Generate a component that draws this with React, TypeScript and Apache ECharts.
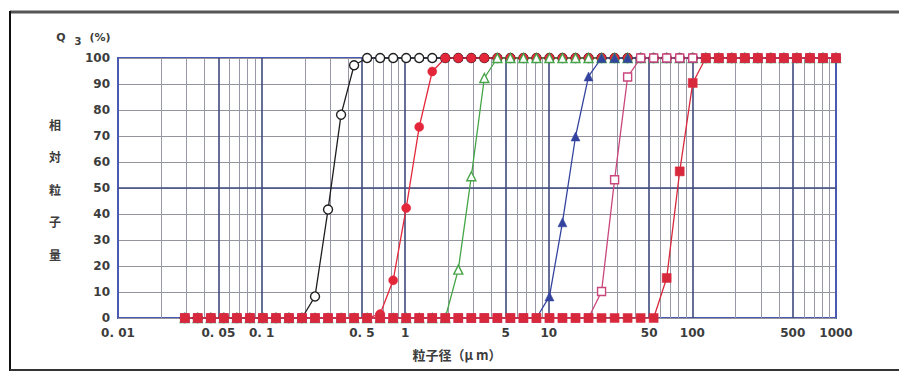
import React, { useEffect, useRef } from 'react';
import * as echarts from 'echarts';

// particle size channels (µm)
const sizes = [
  0.0292, 0.0359, 0.0443, 0.0546, 0.0673, 0.0829, 0.1021, 0.1259, 0.1551, 0.1911,
  0.2355, 0.2902, 0.3576, 0.4406, 0.543, 0.6691, 0.8245, 1.016, 1.252, 1.543,
  1.901, 2.343, 2.887, 3.557, 4.384, 5.402, 6.656, 8.202, 10.11, 12.45,
  15.35, 18.91, 23.3, 28.72, 35.39, 43.61, 53.73, 66.21, 81.59, 100.5,
  123.9, 152.6, 188.1, 231.8, 285.6, 351.9, 433.7, 534.4, 658.5, 811.4,
  1000,
];

// cumulative Q3 (%) per sample
const sampleA = [
  0, 0, 0, 0, 0, 0, 0, 0, 0, 0,
  8.3, 41.7, 78.2, 97.2, 100, 100, 100, 100, 100, 100,
  100, 100, 100, 100, 100, 100, 100, 100, 100, 100,
  100, 100, 100, 100, 100, 100, 100, 100, 100, 100,
  100, 100, 100, 100, 100, 100, 100, 100, 100, 100,
  100,
];
const sampleB = [
  0, 0, 0, 0, 0, 0, 0, 0, 0, 0,
  0, 0, 0, 0, 0, 1.5, 14.5, 42.3, 73.5, 94.8,
  100, 100, 100, 100, 100, 100, 100, 100, 100, 100,
  100, 100, 100, 100, 100, 100, 100, 100, 100, 100,
  100, 100, 100, 100, 100, 100, 100, 100, 100, 100,
  100,
];
const sampleC = [
  0, 0, 0, 0, 0, 0, 0, 0, 0, 0,
  0, 0, 0, 0, 0, 0, 0, 0, 0, 0,
  0, 18.6, 54.5, 92.3, 100, 100, 100, 100, 100, 100,
  100, 100, 100, 100, 100, 100, 100, 100, 100, 100,
  100, 100, 100, 100, 100, 100, 100, 100, 100, 100,
  100,
];
const sampleD = [
  0, 0, 0, 0, 0, 0, 0, 0, 0, 0,
  0, 0, 0, 0, 0, 0, 0, 0, 0, 0,
  0, 0, 0, 0, 0, 0, 0, 0, 8.3, 36.8,
  69.8, 92.9, 100, 100, 100, 100, 100, 100, 100, 100,
  100, 100, 100, 100, 100, 100, 100, 100, 100, 100,
  100,
];
const sampleE = [
  0, 0, 0, 0, 0, 0, 0, 0, 0, 0,
  0, 0, 0, 0, 0, 0, 0, 0, 0, 0,
  0, 0, 0, 0, 0, 0, 0, 0, 0, 0,
  0, 0, 10.2, 53.2, 92.7, 100, 100, 100, 100, 100,
  100, 100, 100, 100, 100, 100, 100, 100, 100, 100,
  100,
];
const sampleF = [
  0, 0, 0, 0, 0, 0, 0, 0, 0, 0,
  0, 0, 0, 0, 0, 0, 0, 0, 0, 0,
  0, 0, 0, 0, 0, 0, 0, 0, 0, 0,
  0, 0, 0, 0, 0, 0, 0, 15.4, 56.4, 90.4,
  100, 100, 100, 100, 100, 100, 100, 100, 100, 100,
  100,
];

const xTickValues = [0.01, 0.05, 0.1, 0.5, 1, 5, 10, 50, 100, 500, 1000];
const xTickLabels = ['0. 01', '0. 05', '0. 1', '0. 5', '1', '5', '10', '50', '100', '500', '1000'];
const minorGridValues = [
  0.02, 0.03, 0.04, 0.06, 0.07, 0.08, 0.09,
  0.2, 0.3, 0.4, 0.6, 0.7, 0.8, 0.9,
  2, 3, 4, 6, 7, 8, 9,
  20, 30, 40, 60, 70, 80, 90,
  200, 300, 400, 600, 700, 800, 900,
];
const majorY = 50;

const BORDER = '#4a5ab2';
const MAJOR = '#3e4a7c';
const MINOR = '#9698a8';
const TXT = '#3c3c3c';

export default function App() {
  const ref = useRef<HTMLDivElement>(null);
  useEffect(() => {
    document.body.style.margin = '0';
    const chart = echarts.init(ref.current!, null, { renderer: 'svg' });
    const toPts = (arr: number[]) => sizes.map((s, i) => [s, arr[i]]);

    const gridLines: any[] = [
      ...minorGridValues.map((v) => ({
        xAxis: v,
        lineStyle: { color: MINOR, width: 1, type: 'solid' },
        label: { show: false },
      })),
      ...xTickValues.map((v, i) => {
        const edge = v === 0.01 || v === 1000;
        return {
          xAxis: v,
          lineStyle: { color: edge ? BORDER : MAJOR, width: edge ? 2 : 1.6, type: 'solid' },
          label: {
            show: true,
            position: 'start',
            distance: 9,
            formatter: xTickLabels[i],
            color: TXT,
            fontSize: 12,
            fontWeight: 'bold',
            fontFamily: 'DejaVu Sans',
          },
        };
      }),
      { yAxis: majorY, lineStyle: { color: MAJOR, width: 1.6, type: 'solid' }, label: { show: false } },
    ];

    const mk = (
      name: string,
      data: number[],
      color: string,
      symbol: string,
      filled: boolean,
      size: number,
      extra: any = {}
    ) => ({
      name,
      type: 'line',
      data: toPts(data),
      symbol,
      symbolSize: size,
      showAllSymbol: true,
      lineStyle: { color, width: 1.3 },
      itemStyle: filled
        ? { color, borderColor: color, borderWidth: 0.5 }
        : { color: '#ffffff', borderColor: color, borderWidth: 1.4 },
      emphasis: { disabled: true },
      z: 3,
      ...extra,
    });

    chart.setOption({
      animation: false,
      backgroundColor: '#ffffff',
      grid: {
        left: 118,
        right: 63,
        top: 58,
        bottom: 54,
        show: true,
        borderColor: BORDER,
        borderWidth: 2,
        backgroundColor: '#ffffff',
      },
      xAxis: {
        type: 'log',
        logBase: 10,
        min: 0.01,
        max: 1000,
        axisLine: { show: false },
        axisTick: { show: false },
        axisLabel: { show: false },
        splitLine: { show: false },
      },
      yAxis: {
        type: 'value',
        min: 0,
        max: 100,
        interval: 10,
        axisLine: { show: false },
        axisTick: { show: false },
        axisLabel: {
          color: TXT,
          fontSize: 12,
          fontWeight: 'bold',
          fontFamily: 'DejaVu Sans',
          margin: 8,
        },
        splitLine: { lineStyle: { color: '#94949f', width: 1 } },
      },
      series: [
        mk('A', sampleA, '#1e1e1e', 'circle', false, 9, {
          markLine: {
            silent: true,
            symbol: ['none', 'none'],
            z: 1,
            animation: false,
            data: gridLines,
          },
        }),
        mk('B', sampleB, '#e4263a', 'circle', true, 9),
        mk('C', sampleC, '#45a447', 'triangle', false, 9),
        mk('D', sampleD, '#34449e', 'triangle', true, 9),
        mk('E', sampleE, '#c9467c', 'rect', false, 8),
        mk('F', sampleF, '#d8283c', 'rect', true, 9),
      ],
      graphic: [
        { type: 'line', shape: { x1: 10, y1: 12, x2: 899, y2: 12 }, style: { stroke: '#555', lineWidth: 3 } },
        { type: 'line', shape: { x1: 10, y1: 11, x2: 10, y2: 371 }, style: { stroke: '#111', lineWidth: 2 } },
        { type: 'line', shape: { x1: 10, y1: 370, x2: 899, y2: 370 }, style: { stroke: '#333', lineWidth: 2 } },
        {
          type: 'text', x: 61, y: 37,
          style: { text: 'Q', fill: TXT, fontSize: 11, fontWeight: 'bold', fontFamily: 'DejaVu Sans', align: 'center', verticalAlign: 'middle' },
        },
        {
          type: 'text', x: 78, y: 41,
          style: { text: '3', fill: TXT, fontSize: 10, fontWeight: 'bold', fontFamily: 'DejaVu Sans', align: 'center', verticalAlign: 'middle' },
        },
        {
          type: 'text', x: 100, y: 37,
          style: { text: '(%)', fill: TXT, fontSize: 11, fontWeight: 'bold', fontFamily: 'DejaVu Sans', align: 'center', verticalAlign: 'middle' },
        },
        {
          type: 'text', x: 55, y: 108,
          style: {
            text: '相\n対\n粒\n子\n量', fill: TXT, fontSize: 12, fontWeight: 'bold',
            fontFamily: 'Noto Sans CJK JP', align: 'center', verticalAlign: 'top', lineHeight: 32.5,
          },
        },
        {
          type: 'text', x: 457, y: 354,
          style: {
            text: '粒子径（μ m）', fill: TXT, fontSize: 13, fontWeight: 'bold',
            fontFamily: 'Noto Sans CJK JP', align: 'center', verticalAlign: 'middle',
          },
        },
      ],
    });
    return () => chart.dispose();
  }, []);
  return <div ref={ref} style={{ width: 899, height: 372 }} />;
}
